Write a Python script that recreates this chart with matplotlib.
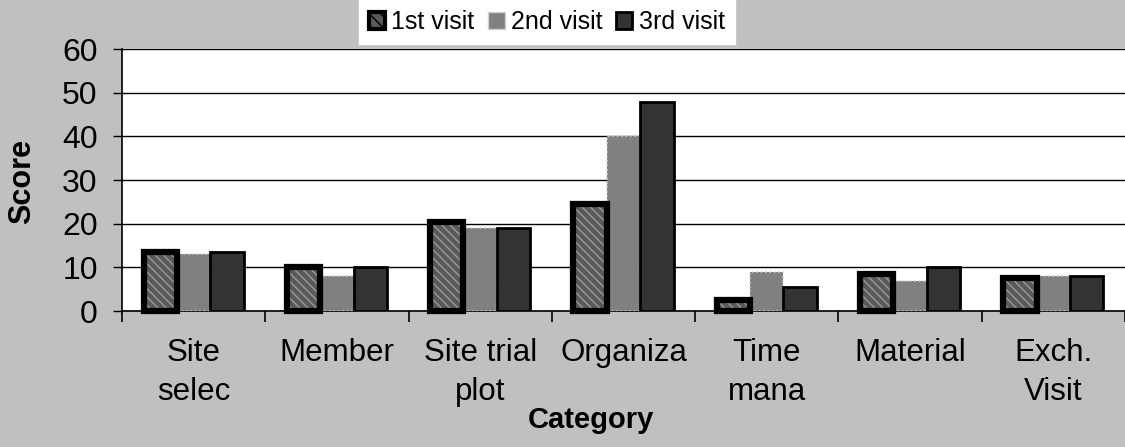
import matplotlib.pyplot as plt
import numpy as np
from matplotlib.patches import Patch

categories = ["Site\nselec", "Member", "Site trial\nplot", "Organiza", "Time\nmana", "Material", "Exch.\nVisit"]
visit1 = [13.5, 10, 20.5, 24.5, 2.5, 8.5, 7.5]
visit2 = [13, 8, 19, 40, 9, 7, 8]
visit3 = [13.5, 10, 19, 48, 5.5, 10, 8]
series_names = ["1st visit", "2nd visit", "3rd visit"]

plt.rcParams["font.family"] = ["Liberation Sans", "DejaVu Sans"]

fig = plt.figure(figsize=(11.25, 4.47), dpi=100, facecolor="#c0c0c0")
ax = fig.add_axes([0.1084, 0.304, 0.8916, 0.586])
ax.set_facecolor("white")

x = np.arange(len(categories))
w = 0.233

# 1st visit: hatched fill plus a heavy black frame
ax.bar(x - w, visit1, w, color="#5a5a5a", hatch="\\\\\\\\", edgecolor="#9a9a9a",
       linewidth=0, zorder=3)
ax.bar(x - w, visit1, w, fill=False, edgecolor="black", linewidth=4.5, zorder=4,
       clip_on=False)
# 2nd visit: mid grey with a faint light border
ax.bar(x, visit2, w, color="#808080", edgecolor="#d0d0d0", linewidth=1.2,
       linestyle=":", zorder=3)
# 3rd visit: dark grey with black border
ax.bar(x + w, visit3, w, color="#333333", edgecolor="black", linewidth=2, zorder=3)

ax.set_xlim(-0.5, len(categories) - 0.5)
ax.set_ylim(0, 60)
ax.set_yticks(range(0, 61, 10))
ax.grid(axis="y", color="black", linewidth=1, zorder=1)
ax.tick_params(axis="y", labelsize=23, length=6.5, width=1, direction="out",
               color="black", pad=11)

ax.set_xticks(x)
ax.set_xticklabels(categories, fontsize=22.5, va="top", linespacing=1.4)
ax.tick_params(axis="x", which="major", length=0, pad=19)
ax.set_xticks(np.arange(-0.5, len(categories)), minor=True)
ax.tick_params(axis="x", which="minor", length=8, width=1.2, color="black")

for s in ["top", "right"]:
    ax.spines[s].set_visible(False)
ax.spines["left"].set_linewidth(1.2)
ax.spines["bottom"].set_linewidth(1.2)

fig.text(22 / 1125, 1 - 182 / 447, "Score", fontsize=22, fontweight="bold",
         rotation=90, ha="center", va="center")
fig.text(591 / 1125, 1 - 420 / 447, "Category", fontsize=21, fontweight="bold",
         ha="center", va="center")

handles = [
    Patch(facecolor="#5a5a5a", edgecolor="black", linewidth=3, hatch="\\\\\\"),
    Patch(facecolor="#808080", edgecolor="#d0d0d0", linewidth=1),
    Patch(facecolor="#333333", edgecolor="black", linewidth=2),
]
fig.legend(handles, series_names, loc="upper center", bbox_to_anchor=(0.486, 1.0),
           ncol=3, fontsize=18, frameon=True, fancybox=False, framealpha=1,
           edgecolor="white", handlelength=0.65, handleheight=0.65,
           handletextpad=0.25, columnspacing=0.55, borderpad=0.4, borderaxespad=0)

fig.savefig("out.png", dpi=100, facecolor=fig.get_facecolor())
